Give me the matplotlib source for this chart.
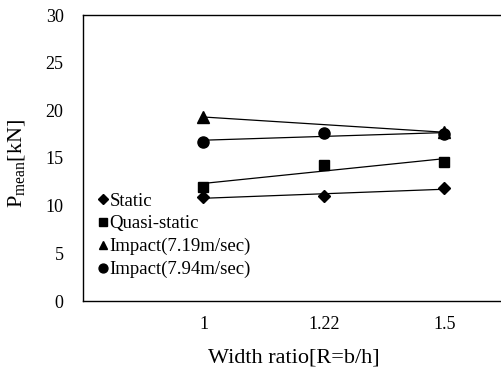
import numpy as np
import matplotlib
matplotlib.use("Agg")
import matplotlib.pyplot as plt

plt.rcParams['font.family'] = ['Liberation Serif', 'DejaVu Serif']
plt.rcParams['mathtext.fontset'] = 'custom'
plt.rcParams['mathtext.rm'] = 'Liberation Serif'

ratios = ["1", "1.22", "1.5"]
static = [10.9, 11.0, 11.85]
quasi_static = [12.0, 14.3, 14.6]
impact_719 = [19.3, np.nan, 17.7]
impact_794 = [16.7, 17.6, 17.5]

series = [
    ("Static", static, "D", 6),
    ("Quasi-static", quasi_static, "s", 7),
    ("Impact(7.19m/sec)", impact_719, "^", 8),
    ("Impact(7.94m/sec)", impact_794, "o", 8),
]

fig = plt.figure(figsize=(5.01, 3.70), dpi=100)
ax = fig.add_axes([83/501, 69/370, 421.75/501, 286/370])

xpos = np.arange(1, len(ratios) + 1)
for name, vals, mk, ms in series:
    v = np.array(vals, dtype=float)
    ok = ~np.isnan(v)
    ax.plot(xpos[ok], v[ok], linestyle="none", marker=mk, markersize=ms,
            color="black", label=name, zorder=3)
    # linear trend line over the category index
    k, b = np.polyfit(xpos[ok], v[ok], 1)
    ax.plot(xpos, k*xpos + b, color="black", lw=0.9, zorder=2)

ax.set_xlim(0, 3.5)
ax.set_ylim(0, 30)
ax.set_xticks(xpos)
ax.set_xticklabels(ratios)
ax.set_yticks(np.arange(0, 31, 5))
ax.tick_params(length=0, labelsize=13)
ax.tick_params(axis="x", pad=11)
ax.tick_params(axis="y", pad=14)
for s in ax.spines.values():
    s.set_linewidth(1.0)

ax.set_xlabel("Width ratio[R=b/h]", fontsize=16, labelpad=11)
ax.set_ylabel(r"P$_{\mathrm{mean}}$[kN]", fontsize=16, labelpad=8)
ax.yaxis.set_label_coords(-0.13, 0.48)

ax.legend(loc="upper left", bbox_to_anchor=(0.005, 0.425), frameon=False,
          fontsize=13.5, handlelength=0.5, handletextpad=0.1,
          labelspacing=0.3, borderaxespad=0.3, markerscale=0.8)

fig.savefig("out.png", dpi=100)
